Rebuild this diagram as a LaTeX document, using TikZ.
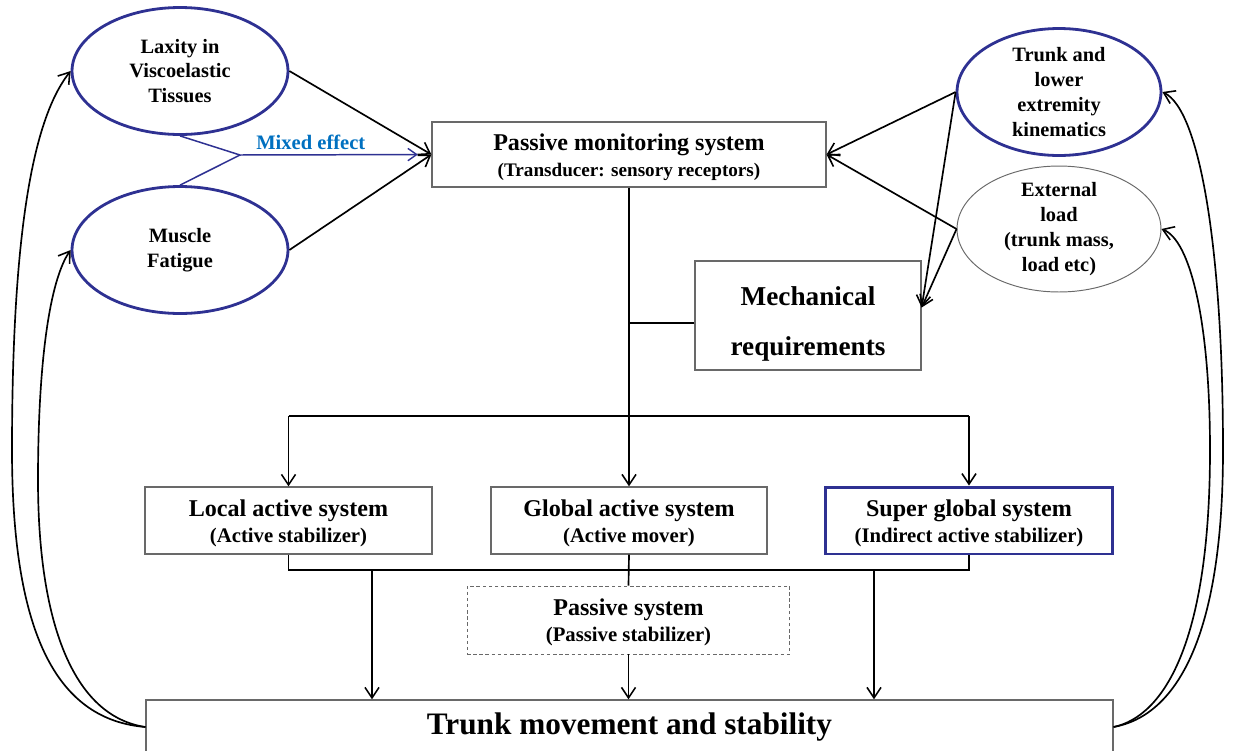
\documentclass[tikz,border=0pt]{standalone}
\usepackage{fontspec}
\setmainfont{Liberation Serif}
\usetikzlibrary{arrows.meta,shapes.geometric,calc}
\definecolor{navy}{RGB}{46,49,146}
\definecolor{mixblue}{RGB}{0,112,192}
\definecolor{boxgray}{RGB}{105,105,105}
\newcommand{\myfT}{\fontsize{13.7}{14.8}\selectfont}
\newcommand{\myfS}{\fontsize{11.8}{14.8}\selectfont}
\newcommand{\myfX}{\fontsize{10.9}{14.8}\selectfont}
\begin{document}
\begin{tikzpicture}[x=0.02cm,y=-0.02cm,
  conn/.style={line width=0.95pt, black},
  arr/.style={conn, -{Straight Barb[length=6pt,width=8pt,line width=0.9pt]}},
  box/.style={draw=boxgray, line width=0.75pt, rectangle, inner sep=0pt, align=center,
    font=\fontsize{12}{14.8}\selectfont\bfseries},
  boxtext/.style={align=center, inner sep=0pt, yshift=-0.05cm, font=\fontsize{12}{14.8}\selectfont\bfseries},
  ell/.style={ellipse, draw=navy, line width=1.6pt, inner sep=0pt},
  elltext/.style={align=center, inner sep=0pt, font=\fontsize{11.6}{14.1}\selectfont\bfseries},
  blueline/.style={draw=navy, line width=0.85pt}]
\useasboundingbox (0,0) rectangle (1235,751);

% ellipses
\node[ell, minimum width=4.32cm, minimum height=2.54cm,
  label={[elltext]center:{Laxity in\\Viscoelastic\\Tissues}}] (lax) at (180,71) {};
\node[ell, minimum width=4.32cm, minimum height=2.54cm,
  label={[elltext]center:{Muscle\\Fatigue}}] (fat) at (180,250) {};
\node[ell, minimum width=4.08cm, minimum height=2.54cm,
  label={[elltext]center:{Trunk and\\lower\\extremity\\kinematics}}] (trk) at (1059,92) {};
\node[ellipse, draw=boxgray, line width=0.55pt, inner sep=0pt, minimum width=4.08cm, minimum height=2.52cm,
  label={[elltext]center:{External\\load\\(trunk mass,\\load etc)}}] (ext) at (1059,229) {};

% boxes
\node[box, minimum width=7.88cm, minimum height=1.3cm,
  label={[boxtext]center:{{\myfT Passive monitoring system}\\{\myfX (Transducer: sensory receptors)}}}]
  (pms) at (629,154.5) {};
\node[box, minimum width=4.52cm, minimum height=2.18cm,
  label={[boxtext, yshift=-0.12cm, font=\fontsize{15.5}{28}\selectfont\bfseries]center:{Mechanical\\requirements}}]
  (mech) at (808,315.5) {};
\node[box, minimum width=5.74cm, minimum height=1.34cm,
  label={[boxtext]center:{{\myfT Local active system}\\{\myfS (Active stabilizer)}}}]
  (loc) at (288.5,520.5) {};
\node[box, minimum width=5.52cm, minimum height=1.34cm,
  label={[boxtext]center:{{\myfT Global active system}\\{\myfS (Active mover)}}}]
  (glob) at (629,520.5) {};
\node[box, draw=navy, line width=1.7pt, minimum width=5.76cm, minimum height=1.34cm,
  label={[boxtext]center:{{\myfT Super global system}\\{\myfS (Indirect active stabilizer)}}}]
  (sup) at (969,520.5) {};
\node[box, dashed, dash pattern=on 2pt off 1.5pt, line width=0.55pt, minimum width=6.46cm, minimum height=1.36cm,
  label={[boxtext]center:{{\myfT Passive system}\\{\myfS (Passive stabilizer)}}}]
  (pas) at (628.5,620) {};
\node[box, minimum width=19.34cm, minimum height=1.08cm, font=\fontsize{17.8}{20}\selectfont\bfseries]
  (tms) at (629.5,727) {Trunk movement and stability};

% inputs to passive monitoring system
\draw[arr] (lax.east) -- (pms.west);
\draw[arr] (fat.east) -- (pms.west);
\coordinate (mj) at (240,155);
\draw[blueline] (lax.south) -- (mj);
\draw[blueline] (fat.north) -- (mj);
\draw[blueline, -{Straight Barb[length=5pt,width=7pt,line width=0.8pt]}, shorten >=0.27cm] (mj) -- (pms.west)
  node[pos=0.37, above, inner sep=2.5pt, text=mixblue, font=\fontsize{11.7}{13}\selectfont\bfseries] {Mixed effect};
\draw[arr] (trk.west) -- (pms.east);
\draw[arr] (ext.west) -- (pms.east);
\coordinate (mtip) at ([yshift=0.16cm]mech.east);
\draw[arr] (trk.west) -- (mtip);
\draw[arr] (ext.west) -- (mtip);

% distribution
\coordinate (split) at (629,416);
\draw[conn] (pms.south) -- (split);
\coordinate (mw) at ([yshift=-0.15cm]mech.west);
\draw[conn] (mw) -- (mw -| pms.south);
\draw[conn] (loc.north |- split) -- (sup.north |- split);
\draw[arr] (loc.north |- split) -- (loc.north);
\draw[arr] (split) -- (glob.north);
\draw[arr] (sup.north |- split) -- (sup.north);

% collection
\coordinate (join) at (629,570);
\draw[conn] (loc.south) -- (loc.south |- join) -- (sup.south |- join) -- (sup.south);
\draw[conn] (glob.south) -- (pas.north);
\coordinate (la) at (372,570);
\coordinate (ra) at (874,570);
\draw[arr] (la) -- (la |- tms.north);
\draw[arr] (pas.south) -- (pas.south |- tms.north);
\draw[arr] (ra) -- (ra |- tms.north);

% feedback curves
\draw[arr] (tms.west) .. controls (60,720) and (12,640) .. (12,450)
  .. controls (12,200) and (40,110) .. (lax.west);
\draw[arr] (tms.west) .. controls (72,716) and (38,620) .. (38,480)
  .. controls (38,360) and (50,280) .. (fat.west);
\draw[arr] (tms.east) .. controls (1175,716) and (1223,640) .. (1223,450)
  .. controls (1223,250) and (1200,110) .. (trk.east);
\draw[arr] (tms.east) .. controls (1165,716) and (1210,640) .. (1210,450)
  .. controls (1210,320) and (1190,240) .. (ext.east);
\end{tikzpicture}
\end{document}
